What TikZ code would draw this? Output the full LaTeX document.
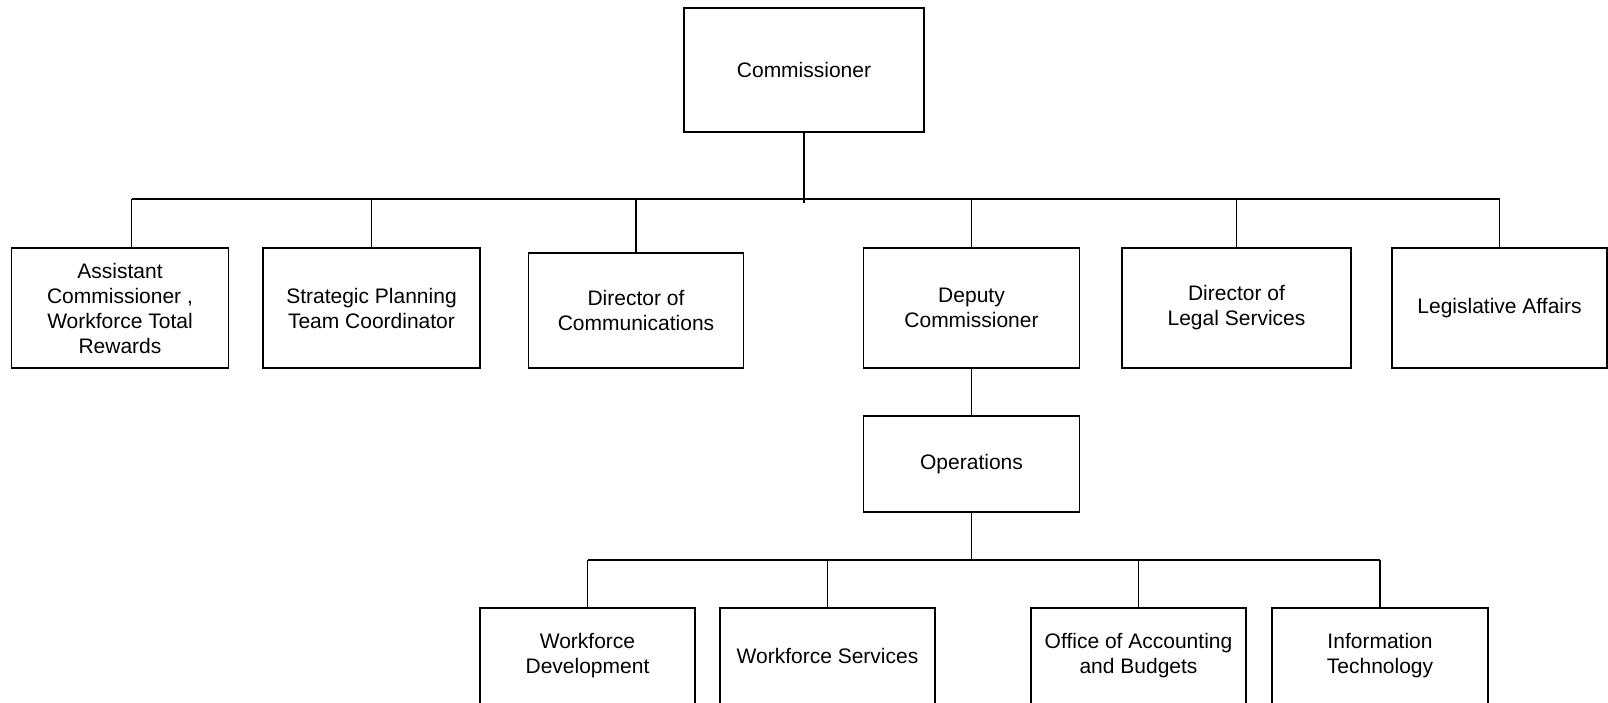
\documentclass[tikz,border=0pt]{standalone}
\usepackage{fontspec}
\setmainfont{Liberation Sans}
\begin{document}
\begin{tikzpicture}[x=1pt,y=-1pt,
  orgbox/.style={draw=black, line width=1.4pt, align=center, inner sep=0pt,
    font=\fontsize{21}{25}\selectfont, text=black},
  link/.style={draw=black, line width=1.4pt}]
\useasboundingbox (0,0) rectangle (1608,702);
\clip (0,0) rectangle (1608,702);
\fill[white] (0,0) rectangle (1608,702);

% top
\node[orgbox, minimum width=240pt, minimum height=124pt] (comm) at (804,70) {Commissioner};

% second row
\node[orgbox, minimum width=217pt, minimum height=120pt] (asst) at (120,308) {Assistant\\Commissioner ,\\Workforce Total\\Rewards};
\node[orgbox, minimum width=217pt, minimum height=120pt] (strat) at (371.5,308) {Strategic Planning\\Team Coordinator};
\node[orgbox, minimum width=215pt, minimum height=115pt] (dircomm) at (636,310.5) {Director of\\Communications};
\node[orgbox, minimum width=216pt, minimum height=120pt] (deputy) at (971.5,308) {Deputy\\Commissioner};
\node[orgbox, minimum width=229pt, minimum height=120pt] (legal) at (1236.5,308) {Director of\\Legal Services};
\node[orgbox, minimum width=215pt, minimum height=120pt] (legis) at (1499.5,308) {Legislative Affairs};

% operations
\node[orgbox, minimum width=216pt, minimum height=96pt] (ops) at (971.5,464) {Operations};

% bottom row
\node[orgbox, minimum width=215pt, minimum height=96pt] (wd) at (587.5,656) {Workforce\\Development};
\node[orgbox, minimum width=215pt, minimum height=96pt] (ws) at (827.5,656) {Workforce Services};
\node[orgbox, minimum width=215pt, minimum height=96pt] (oab) at (1138.5,656) {Office of Accounting\\and Budgets};
\node[orgbox, minimum width=216pt, minimum height=96pt] (it) at (1380,656) {Information\\Technology};

% buses
\coordinate (busA) at (0,199);
\coordinate (busB) at (0,560);
\coordinate (busAL) at (131.5,199);
\coordinate (busAR) at (1500,199);
\coordinate (busBL) at (587.5,560);
\coordinate (busBR) at (1380,560);
\coordinate (commEnd) at (804,203);

\draw[link] (busAL) -- (busAR);
\draw[link] (comm.south) -- (commEnd);
\draw[link] ([xshift=11.5pt]asst.north) -- ([xshift=11.5pt]asst.north |- busA);
\draw[link] (strat.north) -- (strat.north |- busA);
\draw[link] (dircomm.north) -- (dircomm.north |- busA);
\draw[link] (deputy.north) -- (deputy.north |- busA);
\draw[link] (legal.north) -- (legal.north |- busA);
\draw[link] (legis.north) -- (legis.north |- busA);

\draw[link] (deputy.south) -- (ops.north);

\draw[link] (busBL) -- (busBR);
\draw[link] (ops.south) -- (ops.south |- busB);
\draw[link] (wd.north) -- (wd.north |- busB);
\draw[link] (ws.north) -- (ws.north |- busB);
\draw[link] (oab.north) -- (oab.north |- busB);
\draw[link] (it.north) -- (it.north |- busB);
\end{tikzpicture}
\end{document}
